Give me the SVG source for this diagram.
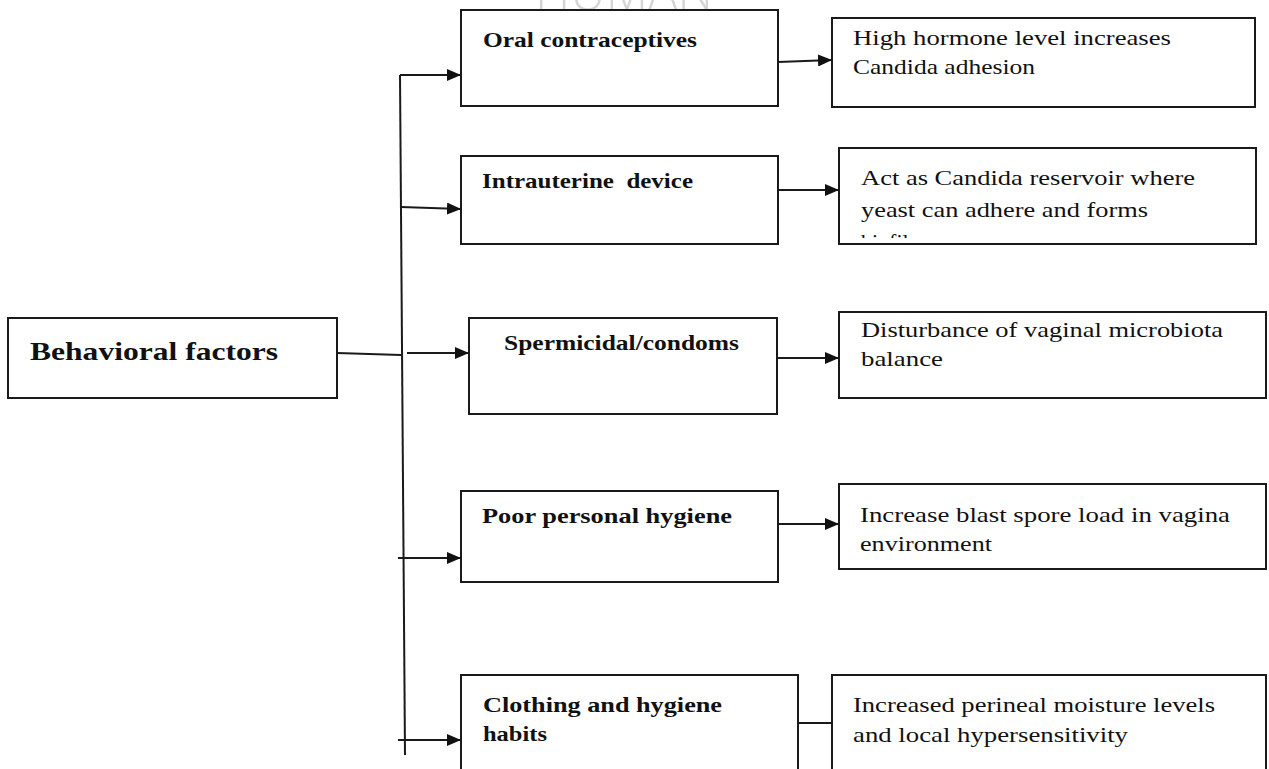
<svg xmlns="http://www.w3.org/2000/svg" width="1269" height="769" viewBox="0 0 1269 769">
<style>
.box{fill:#fff;stroke:#1a1a1a;stroke-width:2}
.c{fill:none;stroke:#1a1a1a;stroke-width:2}
.b{font-family:"Liberation Serif",serif;font-weight:bold;font-size:22px;fill:#111}
.r{font-family:"Liberation Serif",serif;font-size:22px;fill:#111}
.wm{font-family:"Open Sans","DejaVu Sans",sans-serif;font-weight:300;font-size:52px;fill:#d4d4d4}
</style>
<defs>
<marker id="ah" viewBox="0 0 14 12" refX="14" refY="6" markerWidth="14" markerHeight="12" markerUnits="userSpaceOnUse" orient="auto">
<path d="M0,0 L14,6 L0,12 Z" fill="#111"/>
</marker>
<clipPath id="clipR2"><rect x="839" y="148" width="417" height="90"/></clipPath>
</defs>
<rect width="1269" height="769" fill="#fff"/>
<text class="wm" x="535" y="10" textLength="178" lengthAdjust="spacingAndGlyphs">HUMAN</text>

<g id="connectors">
<line class="c" x1="337" y1="353" x2="401" y2="355"/>
<line class="c" x1="400" y1="75" x2="405" y2="755"/>
<line class="c" x1="400" y1="75" x2="461" y2="75" marker-end="url(#ah)"/>
<line class="c" x1="401" y1="207" x2="461" y2="209" marker-end="url(#ah)"/>
<line class="c" x1="407" y1="353" x2="469" y2="353" marker-end="url(#ah)"/>
<line class="c" x1="398" y1="558" x2="461" y2="558" marker-end="url(#ah)"/>
<line class="c" x1="398" y1="740" x2="461" y2="740" marker-end="url(#ah)"/>
<line class="c" x1="778" y1="62" x2="832" y2="60" marker-end="url(#ah)"/>
<line class="c" x1="778" y1="190" x2="839" y2="190" marker-end="url(#ah)"/>
<line class="c" x1="777" y1="358" x2="839" y2="358" marker-end="url(#ah)"/>
<line class="c" x1="778" y1="524" x2="839" y2="524" marker-end="url(#ah)"/>
<line class="c" x1="798" y1="723" x2="832" y2="723"/>
</g>

<g id="behavioral">
<rect class="box" x="8" y="318" width="329" height="80"/>
<text class="b" x="30" y="360" style="font-size:26px" textLength="248" lengthAdjust="spacingAndGlyphs">Behavioral factors</text>
</g>

<g id="oral">
<rect class="box" x="461" y="10" width="317" height="96"/>
<text class="b" x="483" y="47" textLength="214" lengthAdjust="spacingAndGlyphs">Oral contraceptives</text>
</g>
<g id="oral-effect">
<rect class="box" x="832" y="18" width="423" height="89"/>
<text class="r" x="853" y="45" textLength="318" lengthAdjust="spacingAndGlyphs">High hormone level increases</text>
<text class="r" x="853" y="74" textLength="182" lengthAdjust="spacingAndGlyphs">Candida adhesion</text>
</g>

<g id="iud">
<rect class="box" x="461" y="156" width="317" height="88"/>
<text class="b" x="482" y="188" textLength="211" lengthAdjust="spacingAndGlyphs" xml:space="preserve">Intrauterine  device</text>
</g>
<g id="iud-effect">
<rect class="box" x="839" y="148" width="417" height="96"/>
<g clip-path="url(#clipR2)">
<text class="r" x="861" y="185" textLength="334" lengthAdjust="spacingAndGlyphs">Act as Candida reservoir where</text>
<text class="r" x="861" y="217" textLength="287" lengthAdjust="spacingAndGlyphs">yeast can adhere and forms</text>
<text class="r" x="861" y="249">biofilm</text>
</g>
</g>

<g id="spermicidal">
<rect class="box" x="469" y="318" width="308" height="96"/>
<text class="b" x="504" y="350" textLength="235" lengthAdjust="spacingAndGlyphs">Spermicidal/condoms</text>
</g>
<g id="spermicidal-effect">
<rect class="box" x="839" y="312" width="427" height="86"/>
<text class="r" x="861" y="337" textLength="362" lengthAdjust="spacingAndGlyphs">Disturbance of vaginal microbiota</text>
<text class="r" x="861" y="366" textLength="82" lengthAdjust="spacingAndGlyphs">balance</text>
</g>

<g id="hygiene">
<rect class="box" x="461" y="491" width="317" height="91"/>
<text class="b" x="482" y="523" textLength="250" lengthAdjust="spacingAndGlyphs">Poor personal hygiene</text>
</g>
<g id="hygiene-effect">
<rect class="box" x="839" y="484" width="427" height="85"/>
<text class="r" x="860" y="522" textLength="370" lengthAdjust="spacingAndGlyphs">Increase blast spore load in vagina</text>
<text class="r" x="860" y="551" textLength="132" lengthAdjust="spacingAndGlyphs">environment</text>
</g>

<g id="clothing">
<rect class="box" x="461" y="675" width="337" height="110"/>
<text class="b" x="483" y="712" textLength="239" lengthAdjust="spacingAndGlyphs">Clothing and hygiene</text>
<text class="b" x="483" y="741" textLength="64" lengthAdjust="spacingAndGlyphs">habits</text>
</g>
<g id="clothing-effect">
<rect class="box" x="832" y="675" width="434" height="110"/>
<text class="r" x="853" y="712" textLength="362" lengthAdjust="spacingAndGlyphs">Increased perineal moisture levels</text>
<text class="r" x="853" y="742" textLength="275" lengthAdjust="spacingAndGlyphs">and local hypersensitivity</text>
</g>
</svg>
